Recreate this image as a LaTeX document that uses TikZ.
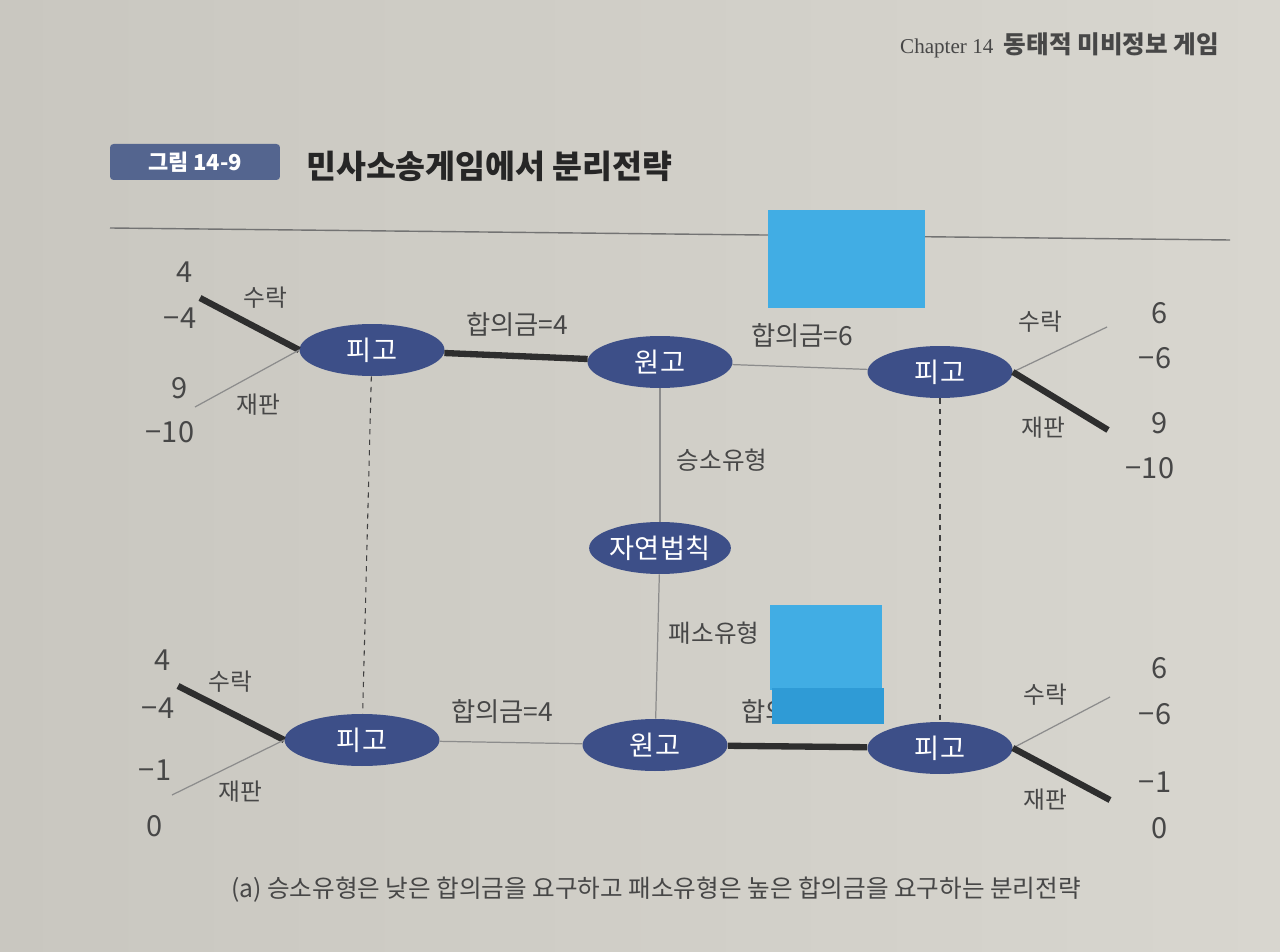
\documentclass[tikz,border=0pt]{standalone}
\usepackage{fontspec}
\setmainfont{Liberation Serif}
\newfontfamily\kr{Noto Sans CJK KR}
\usetikzlibrary{shapes.geometric}
\usetikzlibrary{positioning}
\definecolor{PageGray}{HTML}{D8D6CF}
\definecolor{PageDark}{HTML}{C9C7C0}
\definecolor{NodeBlue}{HTML}{3D4F88}
\definecolor{BadgeBlue}{HTML}{54658F}
\definecolor{InkGray}{HTML}{474747}
\definecolor{NoteBlue}{HTML}{41ADE4}
\definecolor{NoteDark}{HTML}{2F9BD6}

\begin{document}
\begin{tikzpicture}[x=0.02cm, y=-0.02cm,
  player/.style={ellipse, fill=NodeBlue, text=white, inner sep=0pt,
    minimum width=2.9cm, minimum height=1.04cm,
    font=\kr\fontsize{15.5}{15.5}\selectfont},
  move/.style={text=InkGray, font=\kr\fontsize{13.5}{14}\selectfont},
  deal/.style={text=InkGray, font=\kr\fontsize{15}{15}\selectfont},
  pay/.style={text=InkGray, font=\kr\fontsize{16.5}{16.5}\selectfont},
  eqline/.style={draw=black!82, line width=3.6pt},
  offline/.style={draw=black!45, line width=0.7pt},
  infoline/.style={draw=black!75, dashed, line width=0.6pt}]

  % page
  \shade[left color=PageDark, right color=PageGray] (0,0) rectangle (1280,952);

  % heading
  \node[text=InkGray, anchor=east] (chap) at (1225,45)
    {\fontsize{12}{12}\selectfont Chapter 14\enspace{\kr\bfseries\fontsize{14}{14}\selectfont 동태적 미비정보 게임}};
  \node[fill=BadgeBlue, rounded corners=2pt, text=white, minimum width=3.4cm,
    minimum height=0.72cm, font=\kr\bfseries\fontsize{12.5}{12.5}\selectfont]
    (badge) at (195,162) {그림 14-9};
  \node[anchor=west, text=black!85, font=\kr\bfseries\fontsize{18.5}{19}\selectfont]
    (title) at (300,166) {민사소송게임에서 분리전략};
  \coordinate (ruleL) at (110,228);
  \coordinate (ruleR) at (1230,240);
  \draw[black!55, line width=0.8pt] (ruleL) -- (ruleR);

  % players
  \node[player] (pL)  at (372,350) {피고};
  \node[player] (w)   at (660,362) {원고};
  \node[player] (pR)  at (940,372) {피고};
  \node[player, minimum width=2.8cm] (nat) at (660,548) {자연법칙};
  \node[player, minimum width=3.1cm] (bpL) at (362,740) {피고};
  \node[player] (bw)  at (655,745) {원고};
  \node[player] (bpR) at (940,748) {피고};

  % end points
  \coordinate (pLacc) at (200,298);
  \coordinate (pLtri) at (195,407);
  \coordinate (pRacc) at (1107,327);
  \coordinate (pRtri) at (1108,430);
  \coordinate (bpLacc) at (178,686);
  \coordinate (bpLtri) at (172,795);
  \coordinate (bpRacc) at (1110,697);
  \coordinate (bpRtri) at (1110,800);

  % branches
  \draw[eqline] (pL) -- (w);
  \draw[offline] (w) -- (pR);
  \draw[offline] (w) -- (nat);
  \draw[offline] (nat) -- (bw);
  \draw[offline] (bpL) -- (bw);
  \draw[eqline] (bw) -- (bpR);

  \draw[eqline] (pL.west) -- (pLacc);
  \draw[offline] (pL.west) -- (pLtri);
  \draw[offline] (pR.east) -- (pRacc);
  \draw[eqline] (pR.east) -- (pRtri);
  \draw[eqline] (bpL.west) -- (bpLacc);
  \draw[offline] (bpL.west) -- (bpLtri);
  \draw[offline] (bpR.east) -- (bpRacc);
  \draw[eqline] (bpR.east) -- (bpRtri);

  % information sets
  \draw[infoline] (pL) -- (bpL);
  \draw[infoline] (pR) -- (bpR);

  % labels
  \node[move] (lacc1) at (265,298) {수락};
  \node[move] (ltri1) at (258,405) {재판};
  \node[move] (racc1) at (1040,322) {수락};
  \node[move] (rtri1) at (1043,428) {재판};
  \node[move] (lacc2) at (230,682) {수락};
  \node[move] (ltri2) at (240,792) {재판};
  \node[move] (racc2) at (1045,695) {수락};
  \node[move] (rtri2) at (1045,800) {재판};
  \node[deal] (set1) at (517,325) {합의금=4};
  \node[deal] (set2) at (802,336) {합의금=6};
  \node[deal] (set3) at (502,712) {합의금=4};
  \node[deal] (set4) at (792,712) {합의금=6};
  \node[move, font=\kr\fontsize{14}{14}\selectfont] (win)  at (722,460) {승소유형};
  \node[move, font=\kr\fontsize{14}{14}\selectfont] (lose) at (714,633) {패소유형};

  % payoffs
  \foreach \v/\x/\y/\n in {4/185/272/a, −4/180/318/b, 9/180/388/c, −10/170/432/d,
      6/1160/313/e, −6/1155/358/f, 9/1160/423/g, −10/1150/468/h,
      4/163/660/i, −4/158/708/j, −1/155/770/k, 0/155/826/l,
      6/1160/668/m, −6/1155/714/n, −1/1155/782/o, 0/1160/828/p}{%
    \node[pay] (pay\n) at (\x,\y) {\v};
  }

  % sticky notes
  \fill[NoteBlue] (768,210) rectangle (925,308);
  \fill[NoteBlue] (770,605) rectangle (882,690);
  \fill[NoteDark] (772,688) rectangle (884,724);

  % caption
  \node[text=InkGray, font=\kr\fontsize{14}{14}\selectfont] (cap) at (656,890)
    {(a) 승소유형은 낮은 합의금을 요구하고 패소유형은 높은 합의금을 요구하는 분리전략};
\end{tikzpicture}
\end{document}
